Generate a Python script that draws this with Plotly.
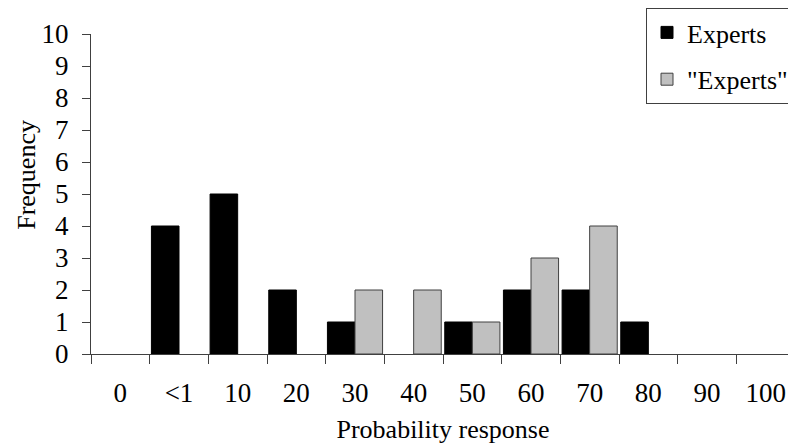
import plotly.graph_objects as go

categories = ["0", "<1", "10", "20", "30", "40", "50", "60", "70", "80", "90", "100"]
experts = [0, 4, 5, 2, 1, 0, 1, 2, 2, 1, 0, 0]
quoted_experts = [0, 0, 0, 0, 2, 2, 1, 3, 4, 0, 0, 0]
y_ticks = list(range(0, 11))

font_name = "Liberation Serif"

# empty bars are left out so that no flat outline sits on the axis
def hide_zero(vals):
    return [v if v else None for v in vals]

fig = go.Figure()
fig.add_trace(go.Bar(x=categories, y=hide_zero(experts), name="Experts", legendgroup="a",
                     marker=dict(color="black", line=dict(color="black", width=1))))
fig.add_trace(go.Bar(x=categories, y=hide_zero(quoted_experts), name='"Experts"', legendgroup="b",
                     marker=dict(color="#c0c0c0", line=dict(color="#404040", width=1))))

# page body has an 8px margin, so the figure is 8px smaller than the window
fig.update_layout(
    width=788, height=437,
    margin=dict(l=83, r=1, t=26, b=91, autoexpand=False),
    plot_bgcolor="white", paper_bgcolor="white",
    font=dict(family=font_name, size=27, color="black"),
    barmode="group", bargap=0.06, bargroupgap=0,
    legend=dict(x=638 / 788, y=1.0, xref="container", yref="container",
                xanchor="left", yanchor="top",
                bordercolor="#404040", borderwidth=1, bgcolor="white",
                tracegroupgap=10, font=dict(size=26),
                itemwidth=30),
)
# y title sits a bit above the middle of the axis, so it is an annotation
fig.add_annotation(text="Frequency", textangle=-90, xref="paper", yref="paper",
                   x=-64 / 704, y=0.56, xanchor="center", yanchor="middle",
                   showarrow=False, font=dict(family=font_name, size=26))
fig.update_xaxes(
    type="category", showline=True, linecolor="#404040", linewidth=1,
    ticks="outside", tickson="boundaries", ticklen=9, tickcolor="#404040",
    ticklabelstandoff=15,
    title=dict(text="Probability response", standoff=12,
               font=dict(family=font_name, size=26)),
    showgrid=False, zeroline=False,
)
fig.update_yaxes(
    range=[0, 10], tickvals=y_ticks, showline=True, linecolor="#404040", linewidth=1,
    ticks="outside", ticklen=8, tickcolor="#404040", ticklabelstandoff=8,
    showgrid=False, zeroline=False,
)

fig.write_html("out.html")
